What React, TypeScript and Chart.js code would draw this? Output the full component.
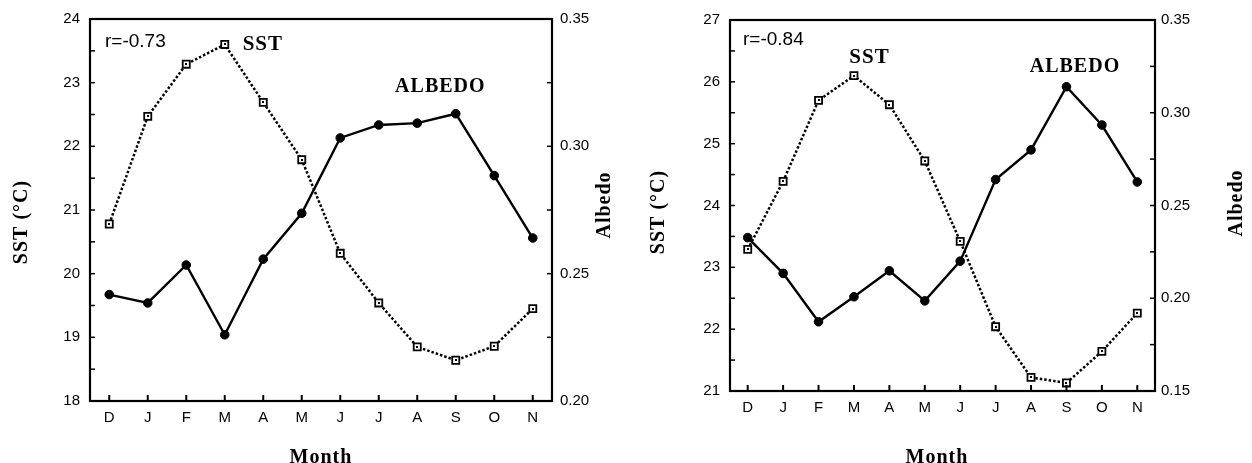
import React, { useEffect, useRef } from "react";
import { Chart, registerables } from "chart.js";

Chart.register(...registerables);

// ---------- data ----------
const months = ["D", "J", "F", "M", "A", "M", "J", "J", "A", "S", "O", "N"];

const sstLeft = [20.78, 22.47, 23.29, 23.6, 22.69, 21.79, 20.32, 19.54, 18.85, 18.64, 18.86, 19.45];
const albedoLeft = [0.2418, 0.2385, 0.2534, 0.226, 0.2557, 0.2737, 0.3033, 0.3084, 0.3091, 0.3128, 0.2885, 0.264];

const sstRight = [23.29, 24.39, 25.7, 26.1, 25.63, 24.72, 23.42, 22.04, 21.22, 21.13, 21.64, 22.26];
const albedoRight = [0.2327, 0.2134, 0.1873, 0.2008, 0.2148, 0.1986, 0.22, 0.264, 0.28, 0.314, 0.2934, 0.2627];

const rLeft = "r=-0.73";
const rRight = "r=-0.84";

type Panel = {
  left: number;
  width: number;
  height: number;
  areaLeft: number;
  areaRight: number;
  areaTop: number;
  areaBottom: number;
  sst: number[];
  albedo: number[];
  sstMin: number;
  sstMax: number;
  albMin: number;
  albMax: number;
  rText: string;
  rOffset: [number, number];
  sstLabelAt: [number, number];
  albedoLabelAt: [number, number];
  yTitle: [number, number];
  y1Title: [number, number];
  xTitle: [number, number];
  y1Pad: number;
  xPad: number;
};

const panels: Panel[] = [
  {
    left: 0,
    width: 640,
    height: 463,
    areaLeft: 90,
    areaRight: 552,
    areaTop: 17,
    areaBottom: 401,
    sst: sstLeft,
    albedo: albedoLeft,
    sstMin: 18,
    sstMax: 24,
    albMin: 0.2,
    albMax: 0.35,
    rText: rLeft,
    rOffset: [15, 23],
    sstLabelAt: [3.99, 23.6],
    albedoLabelAt: [8.6, 0.3235],
    yTitle: [22, 222],
    y1Title: [605, 205],
    xTitle: [321, 458],
    y1Pad: 8,
    xPad: 8,
  },
  {
    left: 640,
    width: 612,
    height: 463,
    areaLeft: 90,
    areaRight: 515,
    areaTop: 20,
    areaBottom: 391,
    sst: sstRight,
    albedo: albedoRight,
    sstMin: 21,
    sstMax: 27,
    albMin: 0.15,
    albMax: 0.35,
    rText: rRight,
    rOffset: [13, 20],
    sstLabelAt: [3.44, 26.4],
    albedoLabelAt: [9.24, 0.3249],
    yTitle: [19, 212],
    y1Title: [597, 203],
    xTitle: [297, 458],
    y1Pad: 6,
    xPad: 8,
  },
];

const INK = "#000000";
const SANS = "'Liberation Sans', Arial, sans-serif";
const SERIF = "'Liberation Serif', 'Times New Roman', serif";

function ChartPanel({ p }: { p: Panel }) {
  const ref = useRef<HTMLCanvasElement | null>(null);

  useEffect(() => {
    const canvas = ref.current;
    if (!canvas) return;

    const deco = {
      id: "deco",
      afterDatasetsDraw(chart: any) {
        const ctx = chart.ctx as CanvasRenderingContext2D;
        const meta = chart.getDatasetMeta(0);
        ctx.save();
        ctx.fillStyle = INK;
        for (const pt of meta.data) {
          ctx.fillRect(Math.round(pt.x) - 1, Math.round(pt.y) - 1, 2, 2);
        }
        ctx.restore();
      },
      afterDraw(chart: any) {
        const ctx = chart.ctx as CanvasRenderingContext2D;
        const a = chart.chartArea;
        const xs = chart.scales.x;
        const ys = chart.scales.y;
        const y1 = chart.scales.y1;
        ctx.save();
        ctx.strokeStyle = INK;
        // frame
        ctx.lineWidth = 2.2;
        ctx.strokeRect(a.left, a.top, a.right - a.left, a.bottom - a.top);
        // left ticks
        ctx.lineWidth = 1.5;
        const nY = Math.round((p.sstMax - p.sstMin) / 0.5);
        for (let i = 0; i <= nY; i++) {
          const py = ys.getPixelForValue(p.sstMin + i * 0.5);
          ctx.beginPath();
          ctx.moveTo(a.left, py);
          ctx.lineTo(a.left + 5, py);
          ctx.stroke();
        }
        // right ticks
        const nY1 = Math.round((p.albMax - p.albMin) / 0.025);
        for (let i = 0; i <= nY1; i++) {
          const py = y1.getPixelForValue(p.albMin + i * 0.025);
          ctx.beginPath();
          ctx.moveTo(a.right, py);
          ctx.lineTo(a.right - 5, py);
          ctx.stroke();
        }
        // x ticks
        ctx.lineWidth = 2;
        for (let i = 0; i < months.length; i++) {
          const px = xs.getPixelForValue(i);
          ctx.beginPath();
          ctx.moveTo(px, a.bottom);
          ctx.lineTo(px, a.bottom - 6);
          ctx.stroke();
        }
        // texts
        ctx.fillStyle = INK;
        ctx.textBaseline = "middle";
        ctx.textAlign = "left";
        ctx.font = `19px ${SANS}`;
        ctx.fillText(p.rText, a.left + p.rOffset[0], a.top + p.rOffset[1]);

        ctx.font = `bold 21px ${SERIF}`;
        (ctx as any).letterSpacing = "1px";
        ctx.textAlign = "center";
        ctx.fillText("SST", xs.getPixelForValue(p.sstLabelAt[0]), ys.getPixelForValue(p.sstLabelAt[1]));
        ctx.font = `bold 20px ${SERIF}`;
        ctx.fillText("ALBEDO", xs.getPixelForValue(p.albedoLabelAt[0]), y1.getPixelForValue(p.albedoLabelAt[1]));

        // axis titles
        ctx.font = `bold 20px ${SERIF}`;
        ctx.fillText("Month", p.xTitle[0], p.xTitle[1]);

        ctx.save();
        ctx.translate(p.yTitle[0], p.yTitle[1]);
        ctx.rotate(-Math.PI / 2);
        ctx.fillText("SST (°C)", 0, 0);
        ctx.restore();

        ctx.save();
        ctx.translate(p.y1Title[0], p.y1Title[1]);
        ctx.rotate(-Math.PI / 2);
        ctx.fillText("Albedo", 0, 0);
        ctx.restore();

        ctx.restore();
      },
    };

    const tickFont = { family: SANS, size: 15 };

    const chart = new Chart(canvas, {
      type: "line",
      data: {
        labels: months,
        datasets: [
          {
            label: "SST",
            data: p.sst,
            yAxisID: "y",
            borderColor: INK,
            borderWidth: 2.5,
            borderDash: [2.5, 2],
            tension: 0,
            pointStyle: "rect",
            pointRadius: 5,
            pointBorderWidth: 1.8,
            pointBorderColor: INK,
            pointBackgroundColor: "#ffffff",
            order: 0,
          },
          {
            label: "ALBEDO",
            data: p.albedo,
            yAxisID: "y1",
            borderColor: INK,
            borderWidth: 2.4,
            tension: 0,
            pointStyle: "circle",
            pointRadius: 4.3,
            pointBorderWidth: 1,
            pointBorderColor: INK,
            pointBackgroundColor: INK,
            order: 1,
          },
        ],
      },
      options: {
        responsive: false,
        animation: false,
        devicePixelRatio: 1,
        layout: { padding: { left: 0, right: 0, top: p.areaTop, bottom: 0 } },
        plugins: {
          legend: { display: false },
          tooltip: { enabled: false },
          title: { display: false },
        },
        scales: {
          x: {
            type: "category",
            offset: true,
            grid: { display: false, drawTicks: false },
            border: { display: false },
            ticks: {
              color: INK,
              font: tickFont,
              padding: p.xPad,
              autoSkip: false,
              maxRotation: 0,
              minRotation: 0,
            },
            afterFit: (s: any) => {
              s.height = p.height - p.areaBottom;
            },
          },
          y: {
            type: "linear",
            position: "left",
            min: p.sstMin,
            max: p.sstMax,
            grid: { display: false, drawTicks: false },
            border: { display: false },
            ticks: { stepSize: 1, color: INK, font: tickFont, padding: 10 },
            afterFit: (s: any) => {
              s.width = p.areaLeft;
            },
          },
          y1: {
            type: "linear",
            position: "right",
            min: p.albMin,
            max: p.albMax,
            grid: { display: false, drawTicks: false },
            border: { display: false },
            ticks: {
              stepSize: 0.05,
              color: INK,
              font: tickFont,
              padding: p.y1Pad,
              callback: (v: any) => Number(v).toFixed(2),
            },
            afterFit: (s: any) => {
              s.width = p.width - p.areaRight;
            },
          },
        },
      },
      plugins: [deco],
    } as any);

    return () => chart.destroy();
  }, [p]);

  return (
    <div style={{ position: "absolute", left: p.left, top: 0, width: p.width, height: p.height }}>
      <canvas
        ref={ref}
        width={p.width}
        height={p.height}
        style={{ width: p.width, height: p.height, display: "block" }}
      />
    </div>
  );
}

export default function App() {
  return (
    <div
      style={{
        position: "absolute",
        left: 0,
        top: 0,
        width: 1252,
        height: 463,
        background: "#ffffff",
        overflow: "hidden",
      }}
    >
      {panels.map((p, i) => (
        <ChartPanel key={i} p={p} />
      ))}
    </div>
  );
}
